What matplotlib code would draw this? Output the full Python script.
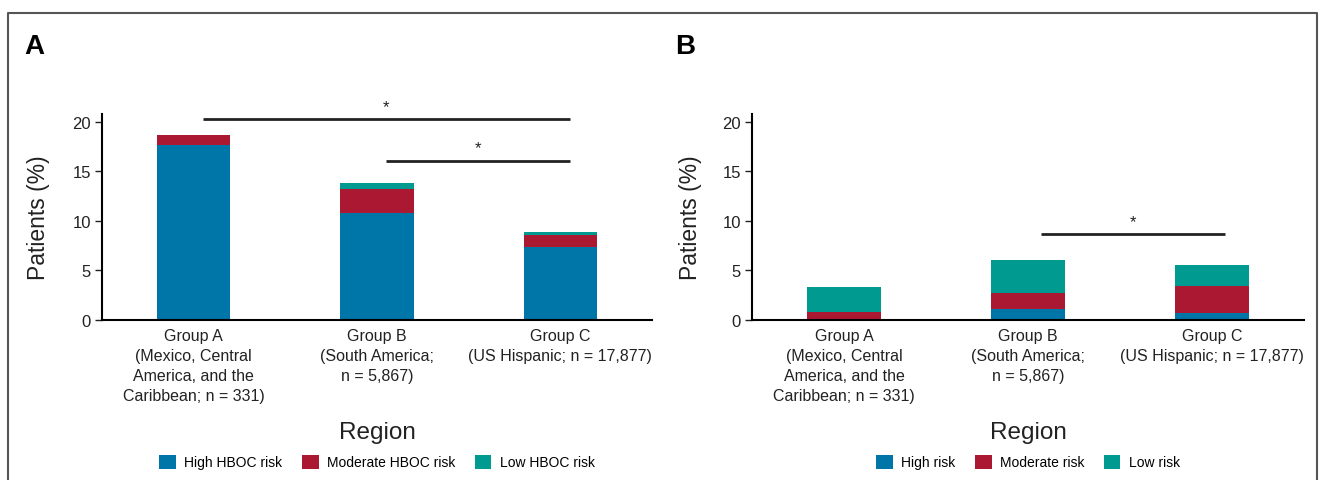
import matplotlib
matplotlib.use("Agg")
import matplotlib.pyplot as plt
import numpy as np
from matplotlib.patches import Patch
from matplotlib.lines import Line2D

plt.rcParams['font.family'] = ['Liberation Sans', 'DejaVu Sans']

groups = ["Group A\n(Mexico, Central\nAmerica, and the\nCaribbean; n = 331)",
          "Group B\n(South America;\nn = 5,867)",
          "Group C\n(US Hispanic; n = 17,877)"]

# panel A: HBOC risk
a_high = [17.7, 10.8, 7.4]
a_mod = [1.0, 2.4, 1.2]
a_low = [0.0, 0.6, 0.3]
a_labels = ["High HBOC risk", "Moderate HBOC risk", "Low HBOC risk"]
a_sig = [(0.05, 2.05, 20.3), (1.05, 2.05, 16.1)]

# panel B: risk
b_high = [0.0, 1.15, 0.7]
b_mod = [0.85, 1.6, 2.7]
b_low = [2.45, 3.35, 2.2]
b_labels = ["High risk", "Moderate risk", "Low risk"]
b_sig = [(1.07, 2.07, 8.7)]

colors = ["#0075A8", "#AB1831", "#009A91"]

H = 481.0
W = 1321.0


def panel(ax, high, mod, low, labels, sigs, ylab_x):
    x = np.arange(len(groups))
    bottom = np.zeros(len(groups))
    for vals, c in zip([high, mod, low], colors):
        ax.bar(x, vals, bottom=bottom, width=0.4, color=c, linewidth=0)
        bottom += np.array(vals)
    ax.set_xlim(-0.5, 2.5)
    ax.set_ylim(0, 20.8)
    ax.set_yticks([0, 5, 10, 15, 20])
    ax.set_xticks(x)
    ax.set_xticklabels(groups, fontsize=11.5, linespacing=1.4, color="#222222")
    ax.tick_params(axis='x', length=0, pad=6)
    ax.tick_params(axis='y', length=5, width=1, pad=3, labelsize=12, colors="#222222")
    for s in ["top", "right"]:
        ax.spines[s].set_visible(False)
    for s in ["left", "bottom"]:
        ax.spines[s].set_linewidth(1.5)
    for x0, x1, y in sigs:
        ax.plot([x0, x1], [y, y], color="#222222", lw=2, clip_on=False,
                solid_capstyle='butt')
        ax.text((x0 + x1) / 2, y + 0.5, "*", ha='center', va='bottom',
                fontsize=12, color="#222222")
    pos = ax.get_position()
    fig.text((pos.x0 + pos.x1) / 2, 1 - 433 / H, "Region", fontsize=17.5,
             ha='center', va='center', color="#222222")
    fig.text(ylab_x / W, (pos.y0 + pos.y1) / 2, "Patients (%)", fontsize=16.5,
             rotation=90, ha='center', va='center', color="#222222")
    handles = [Patch(facecolor=c, edgecolor='none') for c in colors]
    ax.legend(handles, labels, loc='center', bbox_to_anchor=(0.5, -0.689),
              ncol=3, frameon=False, fontsize=10, handlelength=1.2,
              handleheight=1.2, handletextpad=0.6, columnspacing=1.4)


fig = plt.figure(figsize=(13.21, 4.81), dpi=100)
ax1 = fig.add_axes([0.0772, 0.3326, 0.4164, 0.4283])
ax2 = fig.add_axes([0.5693, 0.3326, 0.4179, 0.4283])
panel(ax1, a_high, a_mod, a_low, a_labels, a_sig, 39)
panel(ax2, b_high, b_mod, b_low, b_labels, b_sig, 690)

fig.text(24 / W, 1 - 47 / H, "A", fontsize=20, fontweight='bold',
         va='center', ha='left')
fig.text(675 / W, 1 - 47 / H, "B", fontsize=20, fontweight='bold',
         va='center', ha='left')

# outer frame (top, left, right)
fx0, fx1, fy = 8 / W, 1317 / W, 1 - 14 / H
fig.add_artist(Line2D([fx0, fx0, fx1, fx1], [0, fy, fy, 0],
                      transform=fig.transFigure, color="#555555", lw=1.5))

fig.savefig("out.png", dpi=100)
